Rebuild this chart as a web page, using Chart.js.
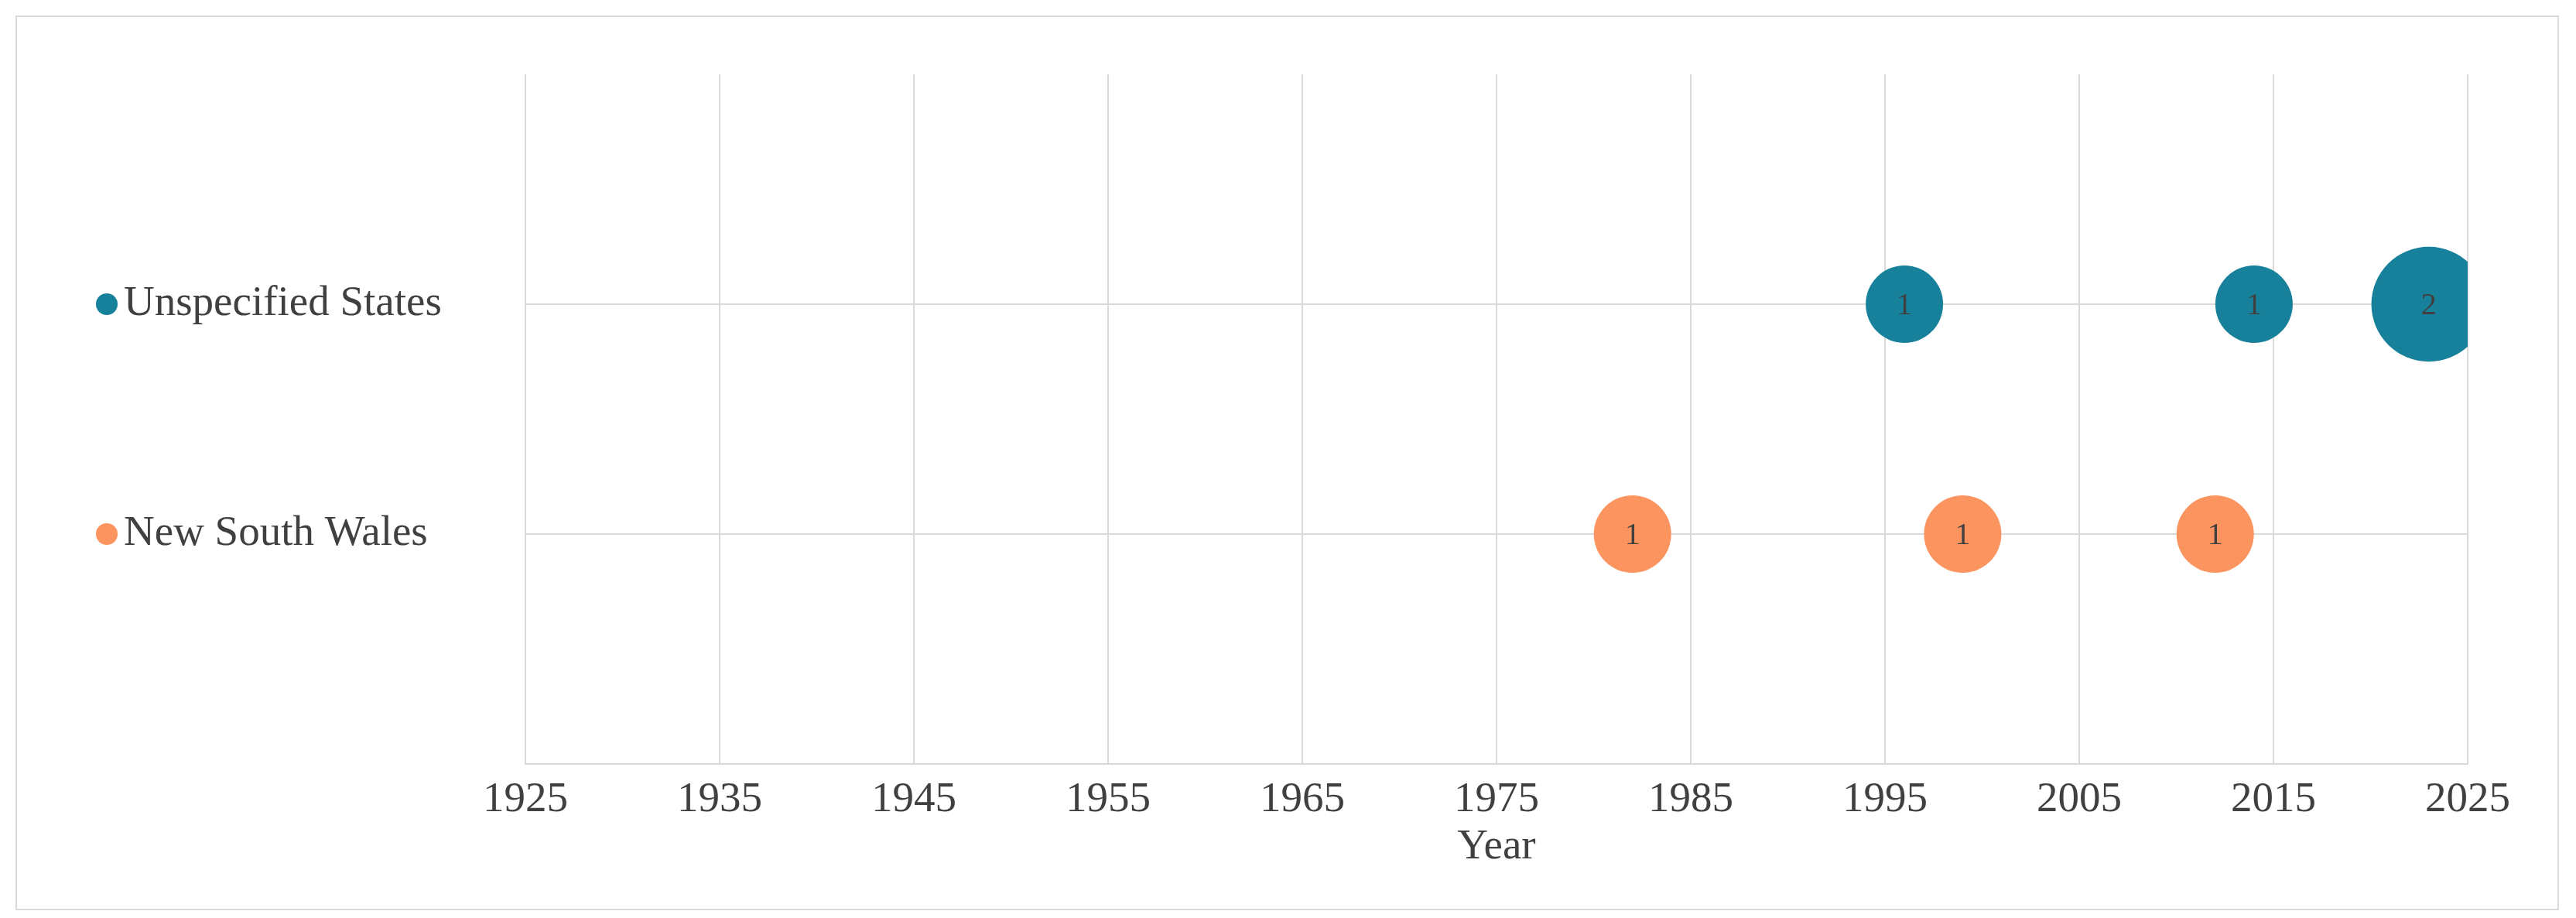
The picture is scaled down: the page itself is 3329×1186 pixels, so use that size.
<!DOCTYPE html>
<html>
<head>
<meta charset="utf-8">
<script src="https://cdn.jsdelivr.net/npm/chart.js@4/dist/chart.umd.min.js"></script>
<style>
  html,body{margin:0;padding:0;background:#fff;}
  #wrap{position:relative;width:3329px;height:1186px;}
  #frame{position:absolute;left:20px;top:20px;right:22px;bottom:10px;border:2px solid #d9d9d9;}
  canvas{position:absolute;left:0;top:0;}
</style>
</head>
<body>
<div id="wrap">
  <div id="frame"></div>
  <canvas id="c" width="3329" height="1186"></canvas>
</div>
<script>
// Data
const rowNames = ['New South Wales', 'Unspecified States'];
const rowColors = ['#fc9460', '#17819b'];
const nswYears = [1982, 1999, 2012];
const nswCounts = [1, 1, 1];
const usYears = [1996, 2014, 2023];
const usCounts = [1, 1, 2];
const xTicks = [1925, 1935, 1945, 1955, 1965, 1975, 1985, 1995, 2005, 2015, 2025];

const FONT = '"Liberation Serif", "Times New Roman", serif';
const rFor = v => 50 * Math.pow(v, 0.57);

function pts(years, counts, row){
  return years.map((y,i)=>({x:y, y:row, v:counts[i]}));
}

// numbers inside bubbles + legend dots next to row labels
const extras = {
  id:'extras',
  afterDatasetsDraw(chart){
    const ctx = chart.ctx;
    ctx.save();
    ctx.font = '40px ' + FONT;
    ctx.fillStyle = '#404040';
    ctx.textAlign = 'center'; ctx.textBaseline = 'middle';
    chart.data.datasets.forEach((ds,di)=>{
      chart.getDatasetMeta(di).data.forEach((el,i)=>{
        ctx.fillText(String(ds.data[i].v), el.x, el.y + 2);
      });
    });
    const ys = chart.scales.y;
    rowNames.forEach((n,i)=>{
      ctx.beginPath();
      ctx.fillStyle = rowColors[i];
      ctx.arc(138, ys.getPixelForValue(i+1), 14, 0, Math.PI*2);
      ctx.fill();
    });
    ctx.restore();
  }
};

new Chart(document.getElementById('c'), {
  type:'bubble',
  data:{
    datasets:[
      {label:rowNames[0], data:pts(nswYears, nswCounts, 1), backgroundColor:rowColors[0], borderWidth:0},
      {label:rowNames[1], data:pts(usYears, usCounts, 2), backgroundColor:rowColors[1], borderWidth:0}
    ]
  },
  options:{
    responsive:false,
    devicePixelRatio:1,
    animation:false,
    layout:{padding:{left:160, right:140, top:96, bottom:58}},
    elements:{point:{radius:ctx=>{const d=ctx.raw; return d ? rFor(d.v) : 0;}, hoverRadius:0}},
    plugins:{legend:{display:false}, tooltip:{enabled:false}},
    scales:{
      x:{
        type:'linear', min:1925, max:2025,
        afterBuildTicks:s=>{ s.ticks = xTicks.map(v=>({value:v})); },
        afterFit:s=>{ s.height = 141; },
        grid:{color:'#d9d9d9', lineWidth:2, drawTicks:false},
        border:{color:'#d9d9d9', width:2},
        ticks:{color:'#404040', font:{family:FONT, size:55}, padding:14, maxRotation:0,
          callback:v=>String(v)},
        title:{display:true, text:'Year', color:'#404040', font:{family:FONT, size:55}, padding:{top:0, bottom:0}}
      },
      y:{
        type:'linear', min:0, max:3,
        afterBuildTicks:s=>{ s.ticks = [{value:1},{value:2}]; },
        afterFit:s=>{ s.width = 519; },
        grid:{color:'#d9d9d9', lineWidth:2, drawTicks:false},
        border:{display:false},
        ticks:{color:'#404040', crossAlign:'far', font:{family:FONT, size:55},
          callback:v=>rowNames[v-1] || ''}
      }
    }
  },
  plugins:[extras]
});
</script>
</body>
</html>
